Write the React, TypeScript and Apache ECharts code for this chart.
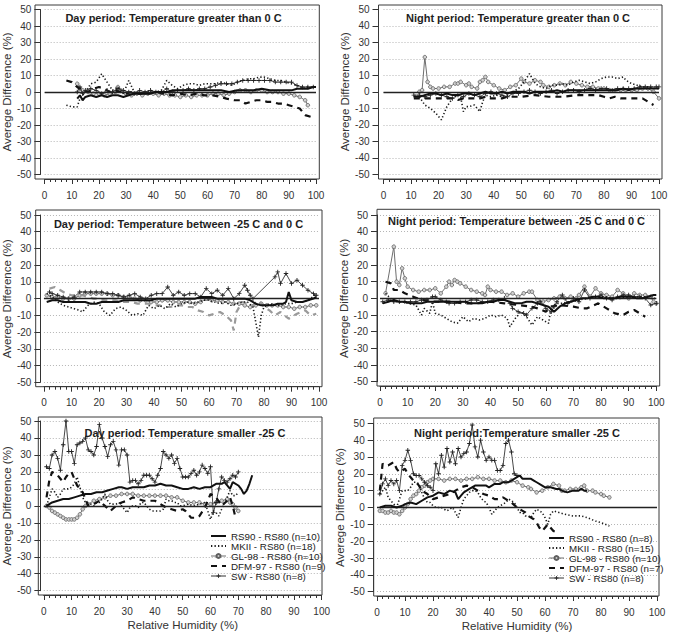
import React, { useEffect, useRef } from "react";
import * as echarts from "echarts";

// ---------- tick labels / texts ----------
const yName = "Averege Difference (%)";
const xName = "Relative Humidity (%)";
const panelTitles = [
  "Day period: Temperature greater than 0 C",
  "Night period: Temperature greater than 0 C",
  "Day period: Temperature between -25 C and 0 C",
  "Night period: Temperature between -25 C and 0 C",
  "Day period: Temperature smaller -25 C",
  "Night period:Temperature smaller -25 C",
];
const legendDay = ["RS90 - RS80 (n=10)", "MKII - RS80 (n=18)", "GL-98 - RS80 (n=10)", "DFM-97 - RS80 (n=9)", "SW - RS80 (n=8)"];
const legendNight = ["RS90 - RS80 (n=8)", "MKII - RS80 (n=15)", "GL-98 - RS80 (n=10)", "DFM-97 - RS80 (n=7)", "SW - RS80 (n=8)"];
const seriesKinds = ["RS90", "MKII", "GL98", "DFM", "SW"];

// ---------- Day, T > 0 C ----------
const tlRS90 = [[12,-4],[13,-2],[14,-5],[15,-3],[17,-2],[19,-3],[21,-2],[23,-3],[25,-2],[27,-2],[29,-3],[31,-2],[33,-1],[35,-1],[37,-1],[39,-1],[41,0],[43,0],[45,0],[47,1],[50,1],[53,1],[56,1],[59,1],[62,1],[65,1],[68,0],[71,1],[74,1],[77,1],[80,2],[83,1],[86,1],[89,1],[91,1],[93,2],[95,2],[97,2],[99,3],[100,3]];
const tlMKII = [[8,-8],[10,-9],[12,-9],[13,-4],[15,0],[17,5],[19,6],[21,11],[23,6],[25,1],[27,3],[29,-1],[31,7],[33,0],[35,-1],[37,0],[39,1],[41,0],[43,1],[45,7],[47,4],[49,2],[51,4],[53,5],[55,5],[57,4],[59,5],[61,5],[63,5],[65,6],[67,5],[69,4],[71,6],[73,7],[75,8],[77,8],[79,9],[81,9],[83,8],[85,7],[87,7],[89,6],[91,5],[93,4],[95,2],[97,3],[99,3]];
const tlGL98 = [[12,5],[13,2],[14,1],[16,0],[18,-1],[20,-1],[22,-2],[24,-1],[26,0],[27,3],[28,1],[30,-1],[32,-2],[34,-1],[36,-2],[38,-1],[40,-1],[42,-2],[44,-1],[46,-2],[48,-2],[50,-3],[52,-2],[54,-3],[56,-2],[58,-2],[60,-2],[62,-1],[64,-1],[66,-2],[68,-1],[70,0],[72,1],[74,1],[76,0],[78,1],[80,1],[82,0],[84,0],[86,0],[88,-1],[90,-1],[92,-2],[94,-3],[96,-5],[97,-8]];
const tlDFM = [[8,7],[10,6],[12,3],[14,1],[16,0],[18,2],[20,3],[22,2],[24,0],[26,1],[28,0],[30,-1],[32,0],[35,-1],[38,-1],[41,0],[44,-1],[47,-2],[50,-1],[53,-2],[56,-1],[59,-2],[62,-2],[65,-3],[67,-4],[70,-5],[72,-5],[74,-7],[76,-6],[78,-5],[80,-5],[82,-6],[84,-6],[86,-7],[88,-7],[90,-8],[92,-9],[94,-10],[96,-14],[98,-15]];
const tlSW = [[12,0],[13,3],[14,-1],[15,1],[17,2],[19,1],[21,-1],[23,1],[25,0],[27,2],[29,1],[31,0],[33,-1],[35,1],[37,0],[39,1],[41,0],[43,0],[45,2],[47,0],[49,1],[51,1],[53,2],[55,1],[57,2],[59,2],[61,3],[63,4],[65,5],[67,5],[69,5],[71,6],[73,7],[75,7],[77,7],[79,7],[81,7],[83,7],[85,6],[87,6],[89,6],[91,6],[93,4],[95,3],[97,3],[99,3]];

// ---------- Night, T > 0 C ----------
const trRS90 = [[11,-3],[13,-3],[15,-2],[17,-1],[19,-1],[21,-2],[23,-1],[25,-2],[27,-2],[29,-1],[31,-1],[33,-2],[35,-1],[37,0],[39,-1],[41,-1],[43,0],[45,-1],[47,0],[49,0],[51,0],[53,-1],[55,0],[57,0],[59,0],[61,0],[63,1],[65,0],[67,1],[69,1],[71,1],[73,1],[75,1],[77,1],[79,1],[81,1],[83,1],[85,1],[87,2],[89,1],[91,2],[93,2],[95,2],[97,2],[99,2],[100,2]];
const trMKII = [[13,-3],[15,-8],[17,-10],[19,-13],[21,-17],[23,-9],[25,-4],[27,-2],[28,-3],[29,-12],[30,-9],[31,-9],[33,-8],[35,-12],[36,-6],[37,-2],[39,-3],[41,-2],[43,-3],[45,-2],[47,0],[49,2],[51,6],[53,11],[54,8],[55,5],[57,3],[59,2],[61,4],[63,4],[65,5],[67,4],[69,6],[71,7],[73,6],[75,5],[77,6],[79,8],[81,9],[83,9],[85,8],[87,9],[88,7],[90,5],[92,4],[94,3],[96,3],[98,2],[100,2]];
const trGL98 = [[13,0],[14,1],[15,21],[16,6],[17,3],[18,2],[20,2],[22,3],[24,3],[26,5],[27,5],[28,6],[30,4],[31,5],[32,3],[34,2],[35,6],[36,7],[37,9],[38,6],[40,4],[42,2],[44,1],[46,3],[48,4],[50,8],[51,6],[53,5],[55,7],[57,6],[58,4],[60,3],[62,4],[64,5],[66,4],[68,6],[70,5],[72,4],[74,3],[76,3],[78,2],[80,2],[82,1],[84,1],[86,1],[88,1],[90,1],[92,1],[94,2],[96,2],[98,0],[100,-4]];
const trDFM = [[11,-4],[13,-4],[15,-4],[17,-4],[19,-4],[21,-4],[23,-4],[25,-4],[27,-5],[29,-4],[31,-4],[33,-4],[35,-4],[37,-3],[39,-4],[41,-4],[43,-4],[45,-3],[47,-3],[50,-3],[55,-2],[60,-3],[65,-3],[70,-2],[75,-2],[78,-2],[80,-3],[82,-4],[84,-3],[86,-4],[88,-4],[90,-4],[92,-4],[94,-4],[96,-6],[98,-8]];
const trSW = [[11,-2],[13,-2],[15,-3],[17,-2],[19,-1],[21,-2],[23,-3],[25,-4],[27,-2],[29,-3],[31,-1],[33,-2],[35,-3],[37,-1],[39,0],[41,-1],[43,-2],[45,-3],[47,-1],[49,-1],[51,0],[53,1],[55,0],[57,-1],[59,0],[61,1],[63,-1],[65,0],[67,1],[69,1],[71,0],[73,1],[75,2],[77,1],[79,2],[81,2],[83,1],[85,2],[87,2],[89,2],[91,2],[93,3],[95,3],[97,3],[99,3],[100,3]];

// ---------- Day, -25 C < T < 0 C ----------
const mlRS90 = [[1,-2],[3,-1],[5,-1],[7,-2],[9,-2],[11,-2],[13,-2],[15,-2],[17,-3],[19,-3],[21,-2],[23,-2],[25,-2],[27,-2],[29,-1],[31,-1],[33,-1],[35,-1],[37,-1],[39,-1],[41,0],[43,0],[45,0],[47,0],[49,0],[51,0],[53,0],[55,0],[57,1],[59,1],[61,1],[63,0],[65,0],[67,0],[69,0],[71,0],[73,0],[75,-1],[77,-3],[79,-4],[81,-4],[83,-4],[85,-3],[87,-3],[88,-2],[89,4],[90,-1],[92,-2],[94,-2],[96,-1],[98,0],[99,1]];
const mlMKII = [[1,3],[3,1],[5,-2],[7,-4],[9,-5],[11,-6],[13,-7],[14,-8],[16,-4],[18,-2],[20,-3],[22,-8],[24,-10],[26,-6],[28,-5],[30,-7],[32,-10],[34,-9],[36,-10],[38,-4],[40,-6],[42,-4],[44,-6],[46,-3],[48,-5],[50,-3],[52,-2],[54,-3],[56,-2],[58,-1],[60,-1],[62,-2],[64,-3],[66,-2],[68,-4],[70,-3],[72,-2],[74,-2],[76,-5],[77,-14],[78,-23],[79,-10],[80,-5],[82,-3],[84,-4],[86,-4],[88,-3],[90,-3],[92,-2],[94,-2],[96,-1],[97,0],[99,3]];
const mlGL98 = [[1,2],[3,1],[5,1],[7,0],[9,0],[11,0],[13,2],[15,3],[17,3],[19,3],[21,3],[23,3],[25,2],[27,2],[29,1],[31,1],[33,0],[35,-1],[37,-1],[39,-2],[41,-2],[43,-1],[45,-1],[47,-2],[49,-2],[51,-2],[53,-2],[55,-3],[57,-2],[59,0],[61,-1],[63,-1],[65,-2],[67,-2],[69,-3],[71,-3],[73,-4],[75,-5],[77,-4],[79,-3],[81,-4],[83,-4],[85,-4],[87,-5],[89,-5],[91,-6],[93,-5],[95,-5],[97,-4],[99,-4]];
const mlDFM = [[2,6],[4,7],[6,5],[8,3],[10,2],[12,2],[14,2],[16,1],[18,0],[20,0],[22,-1],[24,-1],[26,-1],[28,-2],[30,-2],[32,-2],[34,-3],[36,-3],[38,-3],[40,-4],[42,-4],[44,-5],[46,-5],[48,-4],[50,-4],[52,-5],[54,-5],[56,-7],[58,-8],[60,-10],[62,-9],[64,-8],[66,-10],[68,-13],[69,-19],[70,-8],[72,-2],[74,-3],[76,-4],[78,-1],[80,-5],[82,-7],[84,-10],[86,-8],[89,-12],[92,-9],[95,-7],[97,-10],[99,-9]];
const mlSW = [[2,4],[3,3],[5,2],[7,1],[9,0],[11,1],[13,4],[15,4],[17,4],[19,4],[21,4],[23,3],[25,3],[27,2],[29,1],[31,2],[33,3],[35,1],[37,0],[39,2],[41,3],[43,3],[45,7],[47,2],[49,4],[51,2],[53,3],[55,3],[57,1],[59,6],[61,3],[63,5],[65,2],[67,6],[69,0],[71,3],[73,8],[74,5],[75,2],[76,0],[84,13],[85,16],[86,9],[88,15],[90,9],[92,11],[94,8],[96,5],[98,3],[99,2]];

// ---------- Night, -25 C < T < 0 C ----------
const mrRS90 = [[1,-3],[3,-2],[5,-1],[7,-2],[9,-2],[11,-3],[13,-3],[15,-3],[17,-2],[19,-2],[21,-2],[23,-2],[25,-2],[27,-2],[29,-2],[31,-2],[33,-3],[35,-3],[37,-3],[39,-2],[41,-2],[43,-1],[45,-1],[47,-2],[49,-3],[51,-3],[53,-2],[55,-2],[57,-3],[59,-4],[61,-5],[63,-8],[65,-5],[67,-3],[69,-2],[71,-1],[73,0],[75,0],[77,1],[79,1],[81,0],[83,0],[85,0],[87,1],[89,1],[91,1],[93,0],[95,0],[97,1],[99,2],[100,2]];
const mrMKII = [[2,3],[5,-2],[8,-2],[10,-3],[13,-4],[15,-10],[16,-6],[18,-9],[19,-2],[20,-9],[22,-10],[23,-11],[25,-13],[26,-14],[28,-15],[30,-11],[32,-14],[34,-12],[36,-13],[38,-12],[40,-10],[42,-11],[44,-10],[46,-12],[47,-17],[49,-12],[51,-8],[53,-11],[55,-16],[57,-11],[59,-13],[61,-15],[62,-5],[64,-3],[66,-3],[68,-2],[70,-2],[72,-1],[75,0],[78,1],[81,1],[84,0],[87,0],[90,1],[93,1],[96,1],[98,0],[100,0]];
const mrGL98 = [[2,3],[5,31],[6,10],[7,8],[8,18],[9,12],[10,7],[12,5],[14,4],[16,5],[18,5],[20,6],[22,3],[24,7],[25,10],[26,8],[27,11],[28,10],[29,9],[31,7],[33,5],[35,4],[37,3],[38,2],[39,7],[40,5],[42,4],[44,4],[46,2],[48,3],[50,1],[52,3],[54,4],[55,4],[57,-1],[59,-2],[61,-1],[63,0],[65,1],[67,0],[69,1],[71,0],[72,2],[74,7],[76,1],[78,6],[80,3],[82,2],[84,1],[86,5],[88,3],[90,0],[92,3],[94,2],[96,2],[98,1],[99,-2],[100,-3]];
const mrDFM = [[2,10],[4,9],[5,5],[7,5],[9,3],[12,1],[15,-1],[20,-2],[25,-2],[30,-3],[35,-3],[40,-2],[45,-3],[50,-4],[55,-5],[57,-6],[60,-8],[62,-5],[65,-4],[70,-5],[73,-6],[75,-6],[79,-3],[82,-6],[85,-9],[88,-10],[90,-8],[92,-7],[94,-9],[96,-11]];
const mrSW = [[1,-2],[3,-1],[5,-2],[7,-2],[9,-2],[11,-2],[13,-2],[15,-1],[17,-1],[19,1],[20,1],[22,-1],[24,-2],[25,-3],[27,-3],[29,-2],[31,-2],[33,-1],[35,-1],[37,-2],[39,-2],[41,-1],[43,-1],[45,0],[47,-3],[48,-6],[50,-8],[52,-9],[53,-10],[55,-6],[57,-3],[58,-2],[60,-6],[62,-8],[63,-5],[64,-2],[66,2],[68,-3],[70,0],[72,-2],[74,5],[76,0],[78,1],[80,2],[82,0],[84,-1],[86,1],[88,2],[90,2],[92,1],[94,1],[96,0],[98,-4],[100,-3]];

// ---------- Day, T < -25 C ----------
const blRS90 = [[1,0],[3,2],[5,3],[7,4],[9,4],[11,5],[13,6],[15,7],[17,7],[19,8],[21,8],[23,9],[25,10],[27,11],[28,11],[30,10],[32,11],[34,11],[36,11],[38,12],[40,12],[42,13],[44,12],[46,12],[48,11],[50,10],[52,10],[54,11],[56,10],[58,11],[60,11],[62,13],[64,13],[65,14],[66,12],[67,10],[68,14],[70,12],[71,10],[72,7],[73,9],[74,13],[75,18]];
const blMKII = [[1,0],[2,5],[3,10],[4,8],[5,5],[6,7],[7,10],[8,10],[9,10],[10,11],[11,13],[12,17],[13,11],[14,5],[15,2],[16,1],[17,1],[18,0],[19,2],[20,2],[21,4],[22,7],[23,3],[24,1],[25,1],[26,1],[27,2],[28,0],[29,-2],[30,-4],[31,-1],[32,0],[33,0],[34,-1],[35,2],[36,2],[37,0],[38,-2],[39,-3],[40,-3],[41,-3],[42,-3],[43,-2],[44,4],[45,3],[46,3],[47,2],[48,2],[49,0],[50,0],[52,1],[54,0],[56,1],[58,2],[59,-3],[60,-8],[61,-3],[62,-4],[63,-6],[64,-2],[65,2],[66,5],[67,9],[68,6],[69,6],[70,8]];
const blGL98 = [[1,0],[2,-1],[3,-3],[4,-4],[5,-5],[6,-6],[7,-7],[8,-8],[9,-8],[10,-8],[11,-8],[12,-7],[13,-5],[14,-2],[15,0],[16,1],[18,3],[20,4],[22,5],[24,6],[26,6],[28,7],[30,7],[32,7],[34,6],[36,6],[38,6],[40,6],[42,6],[44,6],[46,5],[48,5],[50,3],[52,2],[54,2],[56,2],[58,1],[60,1],[62,2],[64,3],[66,4],[67,2],[68,1],[69,-1],[70,-3]];
const blDFM = [[1,5],[2,15],[3,20],[4,19],[5,18],[6,16],[7,14],[8,17],[9,19],[10,20],[11,16],[12,12],[13,10],[14,8],[15,4],[16,0],[18,1],[20,3],[22,0],[24,-3],[26,0],[28,2],[30,3],[32,5],[34,4],[36,3],[38,3],[40,3],[42,1],[44,-1],[46,-2],[48,-3],[50,-2],[51,-3],[53,-7],[55,-7],[56,-6],[58,-1],[60,7],[62,5],[64,0],[66,3],[67,5],[68,0],[69,-7]];
const blSW = [[1,23],[2,22],[3,30],[4,32],[5,28],[6,21],[7,36],[8,50],[9,32],[10,32],[11,25],[12,36],[13,37],[14,38],[15,40],[16,33],[17,32],[18,30],[19,35],[20,48],[21,40],[22,35],[23,29],[24,36],[25,38],[26,33],[27,24],[28,33],[29,33],[30,30],[31,14],[32,15],[33,15],[34,13],[35,15],[36,18],[37,18],[38,18],[39,16],[40,14],[41,18],[42,22],[43,32],[44,30],[45,28],[46,30],[47,25],[48,28],[49,22],[50,17],[51,17],[52,17],[53,19],[54,21],[55,18],[56,20],[57,24],[58,22],[59,19],[60,23],[61,-4],[62,2],[63,10],[64,17],[65,15],[66,14],[67,16],[68,18],[69,17],[70,20]];

// ---------- Night, T < -25 C ----------
const brRS90 = [[1,0],[3,1],[5,1],[7,0],[9,1],[10,2],[12,3],[14,2],[16,4],[18,6],[20,7],[22,9],[24,8],[26,10],[28,9],[29,5],[30,7],[31,9],[33,11],[35,13],[37,13],[39,13],[40,12],[42,14],[44,14],[45,15],[47,15],[48,16],[50,18],[51,19],[52,17],[54,17],[55,17],[56,16],[57,15],[59,13],[60,12],[62,12],[64,11],[65,11],[66,10],[68,9],[70,10],[72,10],[73,11],[74,10],[75,10]];
const brMKII = [[1,8],[2,10],[3,12],[4,6],[5,4],[7,0],[8,5],[9,10],[10,10],[11,10],[12,12],[13,15],[14,15],[15,14],[16,9],[17,5],[18,3],[19,3],[20,1],[21,0],[22,0],[23,0],[24,-1],[25,-2],[26,-1],[27,0],[28,-3],[29,-6],[30,0],[31,5],[32,7],[33,9],[34,10],[35,10],[36,9],[37,6],[38,4],[39,3],[40,0],[41,-4],[42,-2],[43,0],[44,1],[45,2],[46,3],[47,5],[48,4],[49,3],[50,0],[51,-3],[52,-3],[53,-5],[54,-5],[55,-6],[56,-3],[57,-1],[58,-2],[59,-3],[60,-6],[61,-10],[62,-4],[63,-2],[65,-3],[67,-4],[70,-5],[73,-5],[75,-6],[78,-8],[80,-9],[83,-11]];
const brGL98 = [[1,-2],[2,-2],[3,-3],[4,-3],[5,-2],[6,-3],[7,-3],[8,-4],[9,-2],[10,0],[11,2],[12,5],[13,7],[14,8],[15,10],[16,12],[17,13],[18,15],[19,16],[20,17],[22,17],[24,16],[26,17],[28,17],[30,16],[32,17],[34,17],[36,18],[38,17],[40,17],[42,16],[44,16],[46,15],[48,16],[50,15],[52,13],[54,12],[55,11],[57,9],[59,10],[61,12],[63,14],[65,13],[66,10],[67,10],[69,11],[71,11],[73,12],[74,13],[75,10],[77,10],[78,9],[80,8],[81,7],[83,6]];
const brDFM = [[1,10],[2,26],[3,25],[4,25],[5,26],[6,27],[7,23],[8,21],[9,22],[10,23],[11,20],[12,18],[13,16],[14,15],[15,13],[16,10],[18,8],[20,5],[22,6],[24,7],[26,8],[28,10],[30,12],[32,13],[34,12],[36,10],[38,8],[40,7],[42,5],[44,5],[45,6],[46,5],[47,4],[48,3],[50,0],[52,-2],[53,-3],[54,-5],[55,-6],[56,-7],[57,-9],[58,-12],[59,-14],[60,-12],[61,-10],[62,-12],[63,-14],[64,-14],[65,-13]];
const brSW = [[1,8],[2,14],[3,17],[4,13],[5,16],[6,14],[7,16],[8,10],[9,25],[10,28],[11,34],[12,28],[13,20],[14,19],[15,19],[16,17],[17,15],[18,13],[19,12],[20,10],[21,26],[22,20],[23,31],[24,24],[25,35],[26,27],[27,33],[28,26],[29,35],[30,30],[31,32],[32,33],[33,38],[34,49],[35,36],[36,30],[37,40],[38,33],[39,28],[40,30],[41,28],[42,28],[43,22],[44,22],[45,25],[46,38],[47,40],[48,33],[49,20],[50,19]];

// ---------- layout (pixels) ----------
const layouts = [
  { x0: 39.3, x100: 316, y50: 9.5, ym50: 174.5, bl: 35, br: 319.3, bt: 5, bb: 179, tx: 173.5, ty: 18 },
  { x0: 383.5, x100: 659, y50: 9.3, ym50: 174.3, bl: 378.5, br: 662, bt: 5, bb: 179, tx: 518, ty: 18 },
  { x0: 39.3, x100: 319, y50: 215, ym50: 382.3, bl: 35.7, br: 322, bt: 210, bb: 386.7, tx: 178.5, ty: 224 },
  { x0: 380, x100: 656.3, y50: 215, ym50: 381.7, bl: 377, br: 659.7, bt: 209.3, bb: 386, tx: 516.5, ty: 221 },
  { x0: 41.7, x100: 321.7, y50: 421, ym50: 590.7, bl: 38.3, br: 322, bt: 417, bb: 595, tx: 185, ty: 433 },
  { x0: 377, x100: 657, y50: 423.3, ym50: 591.7, bl: 373.7, br: 659, bt: 418, bb: 596, tx: 517, ty: 433 },
];

const panelData = [
  [tlRS90, tlMKII, tlGL98, tlDFM, tlSW],
  [trRS90, trMKII, trGL98, trDFM, trSW],
  [mlRS90, mlMKII, mlGL98, mlDFM, mlSW],
  [mrRS90, mrMKII, mrGL98, mrDFM, mrSW],
  [blRS90, blMKII, blGL98, blDFM, blSW],
  [brRS90, brMKII, brGL98, brDFM, brSW],
];

const FONT = "Liberation Sans, Arial, sans-serif";
const plusSymbol = "path://M4,0H6V4H10V6H6V10H4V6H0V4H4Z";
const clear = "rgba(0,0,0,0)";

function styleFor(kind: string, panel: number) {
  switch (kind) {
    case "RS90":
      return { symbol: "circle", showSymbol: false, z: 5, lineStyle: { color: "#111", width: 2 }, itemStyle: { color: clear, borderColor: clear, borderWidth: 0 } };
    case "MKII":
      return { symbol: "circle", showSymbol: false, z: 4, lineStyle: { color: "#1a1a1a", width: 1.6, type: [1.3, 2.2] }, itemStyle: { color: clear, borderColor: clear, borderWidth: 0 } };
    case "GL98":
      return { symbol: "circle", symbolSize: 3.6, showSymbol: true, showAllSymbol: true, z: 2, lineStyle: { color: "#6e6e6e", width: 1 }, itemStyle: { color: "#d2d2d2", borderColor: "#5e5e5e", borderWidth: 0.8 } };
    case "DFM":
      return { symbol: "circle", showSymbol: false, z: 3, lineStyle: { color: panel === 2 ? "#9a9a9a" : "#111", width: 2.2, type: [6, 5] }, itemStyle: { color: clear, borderColor: clear, borderWidth: 0 } };
    default:
      return { symbol: plusSymbol, symbolSize: 4.5, showSymbol: true, showAllSymbol: true, z: 3, lineStyle: { color: "#333", width: 0.9 }, itemStyle: { color: "#222" } };
  }
}

function buildOption() {
  const grid: any[] = [];
  const xAxis: any[] = [];
  const yAxis: any[] = [];
  const series: any[] = [];
  const graphic: any[] = [];

  layouts.forEach((L, i) => {
    const bottomRow = i >= 4;
    grid.push({ left: L.x0, top: L.y50, width: L.x100 - L.x0, height: L.ym50 - L.y50, containLabel: false });
    xAxis.push({
      type: "value", gridIndex: i, min: 0, max: 100, interval: 10,
      offset: L.bb - L.ym50,
      axisLine: { show: true, onZero: false, lineStyle: { color: "#333", width: 1 } },
      axisTick: { show: true, length: 5, lineStyle: { color: "#333" } },
      minorTick: { show: true, splitNumber: 5, length: 3, lineStyle: { color: "#333" } },
      axisLabel: { fontSize: 10, color: "#333", margin: 11, fontFamily: FONT },
      splitLine: { show: false },
      name: bottomRow ? xName : "",
      nameLocation: "middle", nameGap: 24,
      nameTextStyle: { fontSize: 11.5, color: "#333", fontFamily: FONT },
    });
    yAxis.push({
      type: "value", gridIndex: i, min: -50, max: 50, interval: 10,
      offset: L.x0 - L.bl,
      axisLine: { show: true, onZero: false, lineStyle: { color: "#333", width: 1 } },
      axisTick: { show: true, length: 6, lineStyle: { color: "#333" } },
      axisLabel: { fontSize: 10, color: "#333", margin: 9, fontFamily: FONT },
      splitLine: { show: true, lineStyle: { color: "#b5b5b5", width: 1, type: [1, 2] } },
      name: yName, nameLocation: "middle", nameGap: 25,
      nameTextStyle: { fontSize: 11.5, color: "#333", fontFamily: FONT },
    });

    const names = i === 4 ? legendDay : i === 5 ? legendNight : seriesKinds.map((k) => `${k} - RS80 / panel ${i + 1}`);
    const order = [2, 4, 1, 3, 0];
    order.forEach((k) => {
      const s: any = {
        type: "line", name: names[k], xAxisIndex: i, yAxisIndex: i,
        data: panelData[i][k], animation: false, clip: true,
        ...styleFor(seriesKinds[k], i),
      };
      if (k === 0) {
        s.markLine = {
          silent: true, symbol: ["none", "none"], label: { show: false },
          lineStyle: { color: "#222", width: 1.3, type: "solid" },
          emphasis: { disabled: true },
          data: [{ yAxis: 0 }],
        };
      }
      series.push(s);
    });

    graphic.push({
      type: "rect", z: 50, silent: true,
      shape: { x: L.bl, y: L.bt, width: L.br - L.bl, height: L.bb - L.bt },
      style: { fill: "none", stroke: "#3a3a3a", lineWidth: 1 },
    });
    graphic.push({
      type: "text", z: 60, silent: true, x: L.tx, y: L.ty,
      style: {
        text: panelTitles[i], fontSize: 11, fontWeight: "bold", fontFamily: FONT, fill: "#1e1e1e",
        align: "center", verticalAlign: "middle", textAlign: "center", textVerticalAlign: "middle",
      },
    });
  });

  const legendItems = (names: string[]) =>
    names.map((n, k) => ({ name: n, lineStyle: { width: k === 2 || k === 4 ? 1 : 2 } }));

  const legendBase = {
    orient: "vertical", itemWidth: 15, itemHeight: 5, itemGap: 0, padding: 0,
    selectedMode: false,
    textStyle: { fontSize: 9.8, lineHeight: 10, color: "#222", fontFamily: FONT },
  };

  return {
    animation: false,
    backgroundColor: "#ffffff",
    textStyle: { fontFamily: FONT },
    grid, xAxis, yAxis, series, graphic,
    legend: [
      { ...legendBase, left: 210, top: 531, data: legendItems(legendDay) },
      { ...legendBase, left: 548, top: 533, data: legendItems(legendNight) },
    ],
  };
}

export default function App() {
  const ref = useRef<HTMLDivElement>(null);
  useEffect(() => {
    if (!ref.current) return;
    const chart = echarts.init(ref.current, undefined, { renderer: "svg" });
    chart.setOption(buildOption() as any);
    return () => chart.dispose();
  }, []);
  return (
    <div
      ref={ref}
      style={{ position: "fixed", left: 0, top: 0, width: 674, height: 634, background: "#fff" }}
    />
  );
}
